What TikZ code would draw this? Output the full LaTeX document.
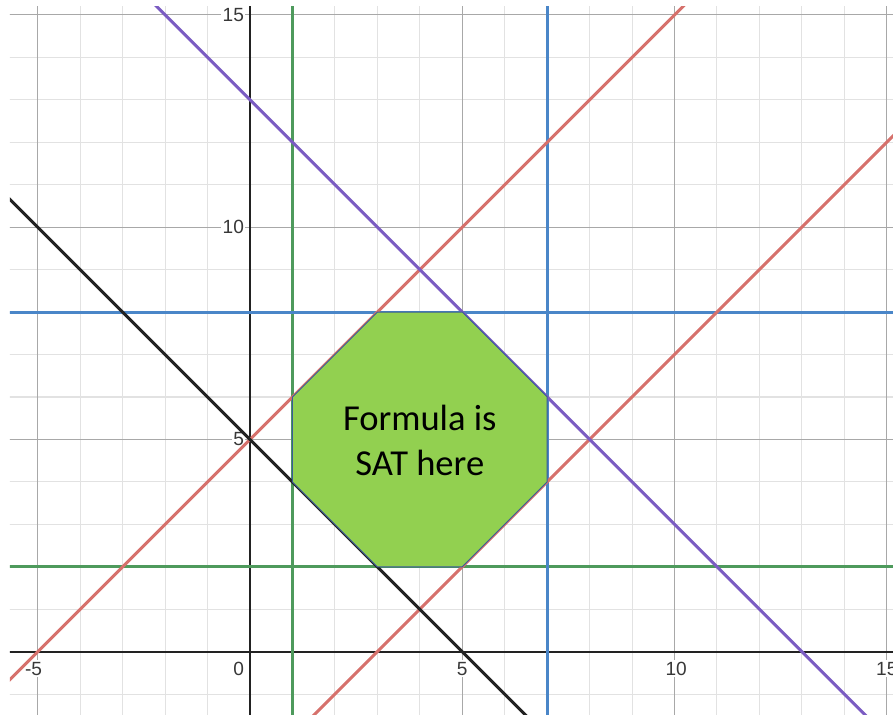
\documentclass[tikz,border=0pt]{standalone}
\usepackage{fontspec}
\setmainfont{Carlito}
\newfontfamily\ticksfont{Liberation Sans}
\definecolor{dred}{HTML}{D6716C}
\definecolor{dblue}{HTML}{4A86C8}
\definecolor{dgreen}{HTML}{4E9A5C}
\definecolor{dpurple}{HTML}{7B5CC2}
\definecolor{dblack}{HTML}{222222}
\definecolor{octfill}{HTML}{92D050}
\definecolor{octline}{HTML}{3A5A9A}
\definecolor{minorgrid}{HTML}{E2E2E2}
\definecolor{majorgrid}{HTML}{A8A8A8}
\definecolor{ticktext}{HTML}{383838}
\tikzset{
  curve/.style={line width=2pt},
  minorg/.style={draw=minorgrid, line width=0.7pt},
  majorg/.style={draw=majorgrid, line width=0.7pt},
  axisline/.style={draw=dblack, line width=1.3pt},
  ticklab/.style={font=\ticksfont\fontsize{12.8}{13}\selectfont, text=ticktext, fill=white, inner sep=1pt},
  octagon/.style={fill=octfill, draw=octline, line width=0.6pt, line join=miter},
  satlabel/.style={align=center, font=\fontsize{24.5}{30}\selectfont, text=black}
}
\begin{document}
\begin{tikzpicture}
\useasboundingbox (-5.889,-1.468) rectangle (15.147,15.352);
\begin{scope}
\clip (-5.654,-1.468) rectangle (15.147,15.21);
% grid
\foreach \i in {-6,...,16} {
  \draw[minorg] (\i,-2) -- (\i,16);
  \draw[minorg] (-6,\i) -- (16,\i);
}
\foreach \i in {-5,5,10,15} {
  \draw[majorg] (\i,-2) -- (\i,16);
}
\foreach \i in {5,10,15} {
  \draw[majorg] (-6,\i) -- (16,\i);
}
% axes
\coordinate (xl) at (-6,0); \coordinate (xr) at (16,0);
\coordinate (yb) at (0,-2); \coordinate (yt) at (0,16);
\draw[axisline] (xl) -- (xr);
\draw[axisline] (yb) -- (yt);
% tick labels
\node[ticklab, anchor=east] (ly15) at (-0.1,15) {15};
\node[ticklab, anchor=east] (ly10) at (-0.1,10) {10};
\node[ticklab, anchor=east] (ly5) at (-0.1,5) {5};
\node[ticklab, anchor=north] (lxm5) at (-5.1,-0.2) {-5};
\node[ticklab, anchor=north east] (lx0) at (-0.1,-0.2) {0};
\node[ticklab, anchor=north] (lx5) at (5,-0.2) {5};
\node[ticklab, anchor=north] (lx10) at (10.04,-0.2) {10};
\node[ticklab, anchor=north] (lx15) at (15,-0.2) {15};
% constraint lines
\coordinate (ka) at (-7,12); \coordinate (kb) at (8,-3);
\coordinate (ra) at (-7,-2); \coordinate (rb) at (11,16);
\coordinate (rc) at (0,-3);  \coordinate (rd) at (19,16);
\coordinate (pa) at (-3,16); \coordinate (pb) at (16,-3);
\coordinate (gva) at (1,-2); \coordinate (gvb) at (1,16);
\coordinate (gha) at (-6,2); \coordinate (ghb) at (16,2);
\coordinate (bva) at (7,-2); \coordinate (bvb) at (7,16);
\coordinate (bha) at (-6,8); \coordinate (bhb) at (16,8);
\draw[curve, dgreen] (gva) -- (gvb);
\draw[curve, dgreen] (gha) -- (ghb);
\draw[curve, dblue] (bva) -- (bvb);
\draw[curve, dblue] (bha) -- (bhb);
\draw[curve, dred] (ra) -- (rb);
\draw[curve, dred] (rc) -- (rd);
\draw[curve, dpurple] (pa) -- (pb);
\draw[curve, dblack] (ka) -- (kb);
\end{scope}
% feasible octagon
\coordinate (o1) at (1,4); \coordinate (o2) at (1,6);
\coordinate (o3) at (3,8); \coordinate (o4) at (5,8);
\coordinate (o5) at (7,6); \coordinate (o6) at (7,4);
\coordinate (o7) at (5,2); \coordinate (o8) at (3,2);
\draw[octagon] (o1) -- (o2) -- (o3) -- (o4) -- (o5) -- (o6) -- (o7) -- (o8) -- cycle;
\node[satlabel] (sat) at (4,4.98) {Formula is\\SAT here};
\end{tikzpicture}
\end{document}
